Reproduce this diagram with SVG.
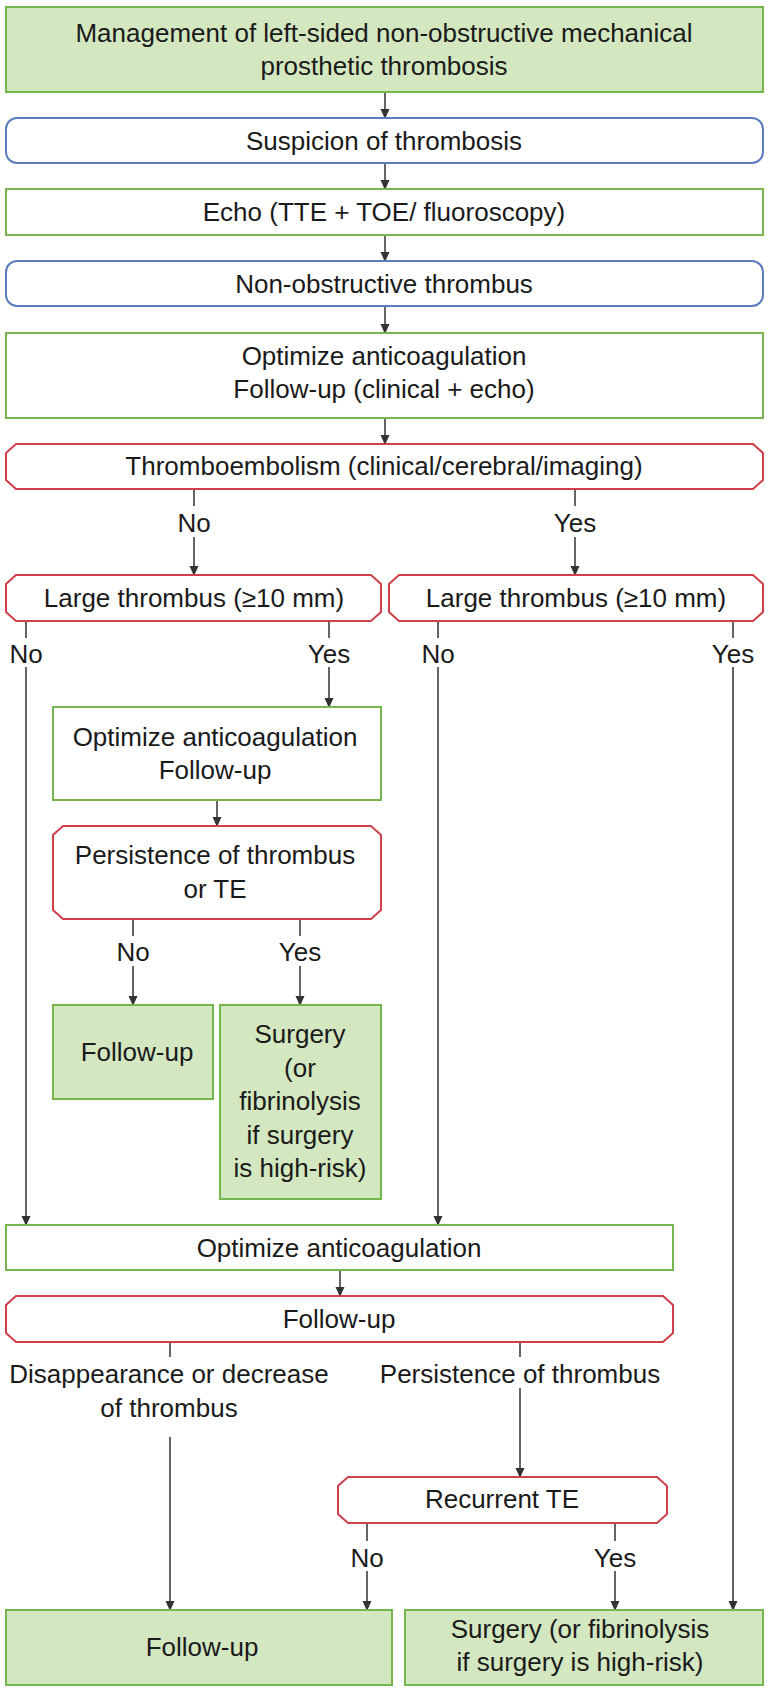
<svg xmlns="http://www.w3.org/2000/svg" width="768" height="1697" viewBox="0 0 768 1697">
<defs>
<marker id="ah" markerUnits="userSpaceOnUse" markerWidth="10" markerHeight="12" refX="8" refY="5" orient="auto" viewBox="0 0 10 10">
<path d="M0,0.5 L10,5 L0,9.5 Z" fill="#333"/>
</marker>
<style>
.t{font-family:"Liberation Sans",Arial,sans-serif;font-size:26px;fill:#1a1a1a;text-anchor:middle}
.g{fill:#ffffff;stroke:#76b64f;stroke-width:2}
.gf{fill:#d3e7c0;stroke:#76b64f;stroke-width:2}
.b{fill:#ffffff;stroke:#5b7dbd;stroke-width:2}
.r{fill:#ffffff;stroke:#d0404a;stroke-width:2}
.c line,.c path{stroke:#333;stroke-width:1.5;fill:none}
.a{marker-end:url(#ah)}
</style>
</defs>
<rect width="768" height="1697" fill="#ffffff"/>

<g id="connectors" class="c">
<line class="a" x1="385" y1="92" x2="385" y2="117"/>
<line class="a" x1="385" y1="163" x2="385" y2="188"/>
<line class="a" x1="385" y1="235" x2="385" y2="260"/>
<line class="a" x1="385" y1="306" x2="385" y2="332"/>
<line class="a" x1="385" y1="418" x2="385" y2="443"/>
<line x1="194" y1="489" x2="194" y2="506"/>
<line class="a" x1="194" y1="537" x2="194" y2="574"/>
<line x1="575" y1="489" x2="575" y2="506"/>
<line class="a" x1="575" y1="537" x2="575" y2="574"/>
<line x1="26" y1="621" x2="26" y2="638"/>
<line class="a" x1="26" y1="667" x2="26" y2="1224"/>
<line x1="329" y1="621" x2="329" y2="638"/>
<line class="a" x1="329" y1="667" x2="329" y2="706"/>
<line x1="438" y1="621" x2="438" y2="638"/>
<line class="a" x1="438" y1="667" x2="438" y2="1224"/>
<line x1="733" y1="621" x2="733" y2="638"/>
<line class="a" x1="733" y1="667" x2="733" y2="1609"/>
<line class="a" x1="217" y1="800" x2="217" y2="825"/>
<line x1="133" y1="919" x2="133" y2="936"/>
<line class="a" x1="133" y1="966" x2="133" y2="1004"/>
<line x1="300" y1="919" x2="300" y2="936"/>
<line class="a" x1="300" y1="966" x2="300" y2="1004"/>
<line class="a" x1="340" y1="1270" x2="340" y2="1295"/>
<line x1="170" y1="1342" x2="170" y2="1357"/>
<line class="a" x1="170" y1="1437" x2="170" y2="1609"/>
<line x1="520" y1="1342" x2="520" y2="1357"/>
<line class="a" x1="520" y1="1388" x2="520" y2="1476"/>
<line x1="367" y1="1523" x2="367" y2="1541"/>
<line class="a" x1="367" y1="1571" x2="367" y2="1609"/>
<line x1="615" y1="1523" x2="615" y2="1541"/>
<line class="a" x1="615" y1="1571" x2="615" y2="1609"/>
</g>

<g id="labels">
<text class="t" x="194" y="532">No</text>
<text class="t" x="575" y="532">Yes</text>
<text class="t" x="26" y="663">No</text>
<text class="t" x="329" y="663">Yes</text>
<text class="t" x="438" y="663">No</text>
<text class="t" x="733" y="663">Yes</text>
<text class="t" x="133" y="961">No</text>
<text class="t" x="300" y="961">Yes</text>
<text class="t" x="169" y="1383">Disappearance or decrease</text>
<text class="t" x="169" y="1417">of thrombus</text>
<text class="t" x="520" y="1383">Persistence of thrombus</text>
<text class="t" x="367" y="1567">No</text>
<text class="t" x="615" y="1567">Yes</text>
</g>

<g id="n-title">
<rect class="gf" x="6" y="7" width="757" height="85"/>
<text class="t" x="384" y="42">Management of left-sided non-obstructive mechanical</text>
<text class="t" x="384" y="75">prosthetic thrombosis</text>
</g>
<g id="n-suspicion">
<rect class="b" x="6" y="118" width="757" height="45" rx="11" ry="11"/>
<text class="t" x="384" y="150">Suspicion of thrombosis</text>
</g>
<g id="n-echo">
<rect class="g" x="6" y="189" width="757" height="46"/>
<text class="t" x="384" y="221">Echo (TTE + TOE/ fluoroscopy)</text>
</g>
<g id="n-nonobstr">
<rect class="b" x="6" y="261" width="757" height="45" rx="11" ry="11"/>
<text class="t" x="384" y="293">Non-obstructive thrombus</text>
</g>
<g id="n-optimize1">
<rect class="g" x="6" y="333" width="757" height="85"/>
<text class="t" x="384" y="365">Optimize anticoagulation</text>
<text class="t" x="384" y="398">Follow-up (clinical + echo)</text>
</g>
<g id="n-te">
<path class="r" d="M16,444 H753 L763,453 V480 L753,489 H16 L6,480 V453 Z"/>
<text class="t" x="384" y="475">Thromboembolism (clinical/cerebral/imaging)</text>
</g>
<g id="n-large-left">
<path class="r" d="M16,575 H371 L381,584 V612 L371,621 H16 L6,612 V584 Z"/>
<text class="t" x="194" y="607">Large thrombus (≥10 mm)</text>
</g>
<g id="n-large-right">
<path class="r" d="M399,575 H753 L763,584 V612 L753,621 H399 L389,612 V584 Z"/>
<text class="t" x="576" y="607">Large thrombus (≥10 mm)</text>
</g>
<g id="n-optimize2">
<rect class="g" x="53" y="707" width="328" height="93"/>
<text class="t" x="215" y="746">Optimize anticoagulation</text>
<text class="t" x="215" y="779">Follow-up</text>
</g>
<g id="n-persist">
<path class="r" d="M63,826 H371 L381,835 V910 L371,919 H63 L53,910 V835 Z"/>
<text class="t" x="215" y="864">Persistence of thrombus</text>
<text class="t" x="215" y="898">or TE</text>
</g>
<g id="n-followup-small">
<rect class="gf" x="53" y="1005" width="160" height="94"/>
<text class="t" x="137" y="1061">Follow-up</text>
</g>
<g id="n-surgery-small">
<rect class="gf" x="220" y="1005" width="161" height="194"/>
<text class="t" x="300" y="1043">Surgery</text>
<text class="t" x="300" y="1077">(or</text>
<text class="t" x="300" y="1110">fibrinolysis</text>
<text class="t" x="300" y="1144">if surgery</text>
<text class="t" x="300" y="1177">is high-risk)</text>
</g>
<g id="n-optimize3">
<rect class="g" x="6" y="1225" width="667" height="45"/>
<text class="t" x="339" y="1257">Optimize anticoagulation</text>
</g>
<g id="n-followup-mid">
<path class="r" d="M16,1296 H663 L673,1305 V1333 L663,1342 H16 L6,1333 V1305 Z"/>
<text class="t" x="339" y="1328">Follow-up</text>
</g>
<g id="n-recurrent">
<path class="r" d="M348,1477 H657 L667,1486 V1514 L657,1523 H348 L338,1514 V1486 Z"/>
<text class="t" x="502" y="1508">Recurrent TE</text>
</g>
<g id="n-followup-final">
<rect class="gf" x="6" y="1610" width="386" height="75"/>
<text class="t" x="202" y="1656">Follow-up</text>
</g>
<g id="n-surgery-final">
<rect class="gf" x="405" y="1610" width="358" height="75"/>
<text class="t" x="580" y="1638">Surgery (or fibrinolysis</text>
<text class="t" x="580" y="1671">if surgery is high-risk)</text>
</g>
</svg>
